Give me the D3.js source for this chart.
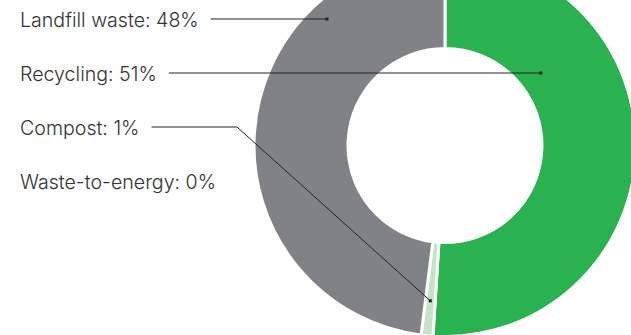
<!DOCTYPE html>
<html><head><meta charset="utf-8">
<script src="https://cdn.jsdelivr.net/npm/d3@7"></script>
<style>body{margin:0;background:#fff;overflow:hidden}svg{display:block}</style>
</head><body>
<svg id="c" width="631" height="335"></svg>
<script>
const categories = ["Recycling", "Compost", "Waste-to-energy", "Landfill waste"];
const values = [51, 1, 0, 48];
const colors = ["#29b24f", "#c5e3c6", "#a8a9ad", "#818285"];
const labelOrder = ["Landfill waste", "Recycling", "Compost", "Waste-to-energy"];
const leaderAngleDeg = {"Landfill waste": 317, "Recycling": 52.9, "Compost": null};
const leaderRadius = {"Landfill waste": 173, "Recycling": 120, "Compost": 156};

const svg = d3.select("#c");
const cx = 445, cy = 145.5, rOuter = 191, rInner = 97;
const g = svg.append("g").attr("transform", `translate(${cx},${cy})`);

const pie = d3.pie().sort(null).value(d => d.v);
const data = categories.map((c, i) => ({c, v: values[i], col: colors[i]}));
const arcs = pie(data);
const arc = d3.arc().innerRadius(rInner).outerRadius(rOuter);

g.selectAll("path").data(arcs).enter().append("path")
  .attr("d", arc).attr("fill", d => d.data.col)
  .attr("stroke", "#fff").attr("stroke-width", 3).attr("stroke-linejoin", "miter");

const y = d3.scalePoint().domain(labelOrder).range([20, 182]);
const lbl = svg.append("g");
labelOrder.forEach(name => {
  const i = categories.indexOf(name);
  const t = lbl.append("text").attr("x", 20).attr("y", y(name)).attr("dy", "0.35em")
    .attr("font-family", "Inter, 'Open Sans', sans-serif").attr("font-weight", 300)
    .attr("font-size", 19.6).attr("fill", "#333")
    .text(`${name}: ${values[i]}%`);
  if (!(name in leaderRadius)) return;
  const w = t.node().getComputedTextLength();
  const x0 = 20 + w + 12, yy = y(name) - 1;
  let a = leaderAngleDeg[name];
  if (a === null) { const s = arcs[i]; a = (s.startAngle + s.endAngle) / 2 * 180 / Math.PI; }
  const ar = a * Math.PI / 180, r = leaderRadius[name];
  const px = cx + r * Math.sin(ar), py = cy - r * Math.cos(ar);
  let pts;
  if (Math.abs(py - yy) < 2) pts = [[x0, yy], [px, yy]];
  else pts = [[x0, yy], [237, yy], [px, py]];
  const ey = pts[pts.length - 1];
  lbl.append("path").attr("d", d3.line()(pts)).attr("fill", "none")
    .attr("stroke", "#222").attr("stroke-width", 1);
  lbl.append("rect").attr("x", ey[0] - 1.5).attr("y", ey[1] - 1.5)
    .attr("width", 3).attr("height", 3).attr("fill", "#222");
});
</script>
</body></html>
